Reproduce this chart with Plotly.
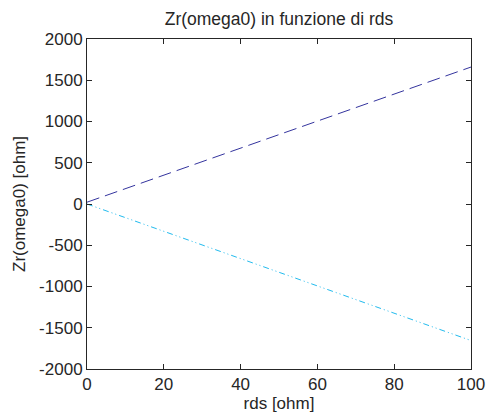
import plotly.graph_objects as go

rds = [0, 100]
zr_upper = [22, 1660]
zr_lower = [0, -1655]

x_ticks = [0, 20, 40, 60, 80, 100]
y_ticks = [-2000, -1500, -1000, -500, 0, 500, 1000, 1500, 2000]
y_labels = ["-2000", "-1500", "-1000", "-500", "0", "500", "1000", "1500", "2000"]

fig = go.Figure()
fig.add_trace(go.Scatter(x=rds, y=zr_upper, mode="lines",
                         line=dict(color="#34349e", width=1, dash="13px,6px")))
fig.add_trace(go.Scatter(x=rds, y=zr_lower, mode="lines",
                         line=dict(color="#22bbee", width=1, dash="6px,3px,1px,3px,1px,3px")))

axis_common = dict(showgrid=False, zeroline=False, showline=True, linecolor="#262626",
                   linewidth=1, mirror="ticks", ticks="inside", ticklen=5,
                   tickcolor="#262626", automargin=False,
                   tickfont=dict(size=17, color="#262626"))

fig.update_layout(
    width=490, height=414,
    margin=dict(l=87, r=19, t=39, b=45),
    paper_bgcolor="white", plot_bgcolor="white",
    font=dict(family="Liberation Sans, Arial, sans-serif", size=17, color="#262626"),
    showlegend=False,
    title=dict(text="Zr(omega0) in funzione di rds", x=0.5, xanchor="center",
               xref="paper", y=1 - 19 / 414, yanchor="middle", font=dict(size=17.5)),
    xaxis=dict(range=[0, 100], tickvals=x_ticks,
               title=dict(text="rds [ohm]", standoff=0, font=dict(size=17)), **axis_common),
    yaxis=dict(range=[-2000, 2000], tickvals=y_ticks, ticktext=y_labels,
               title=dict(text="Zr(omega0) [ohm]", standoff=9, font=dict(size=17)), **axis_common),
)

fig.write_html("out.html")
